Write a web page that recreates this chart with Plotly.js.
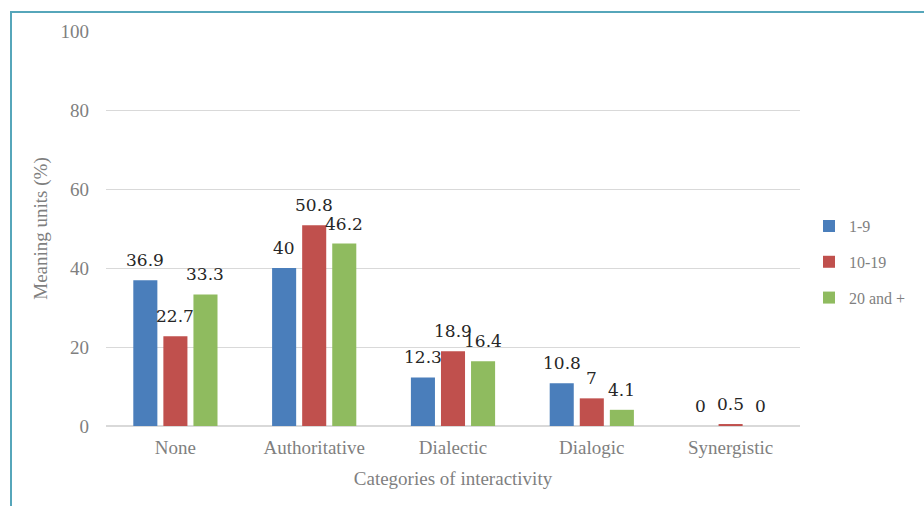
<!DOCTYPE html>
<html>
<head>
<meta charset="utf-8">
<script src="https://cdn.plot.ly/plotly-3.0.1.min.js"></script>
<style>
html,body{margin:0;padding:0;background:#fff;overflow:hidden;}
#chart{width:924px;height:506px;position:absolute;left:0;top:0;}
#frame{position:absolute;left:10px;top:11px;width:2000px;height:2000px;border-left:2px solid #56a6ba;border-top:2px solid #56a6ba;pointer-events:none;}
</style>
</head>
<body>
<div id="chart"></div>
<div id="frame"></div>
<script>
const categories = ["None", "Authoritative", "Dialectic", "Dialogic", "Synergistic"];
const seriesNames = ["1-9", "10-19", "20 and +"];
const s1 = [36.9, 40, 12.3, 10.8, 0];
const s2 = [22.7, 50.8, 18.9, 7, 0.5];
const s3 = [33.3, 46.2, 16.4, 4.1, 0];
const colors = ["#4a7ebb", "#c0504d", "#8fbb5f"];
const yTicks = [0, 20, 40, 60, 80, 100];

const serif = "Liberation Serif";
const labelFont = {family: "DejaVu Serif", size: 17, color: "#262626"};
const bargap = 0.35;

const series = [s1, s2, s3];
const data = series.map((vals, i) => ({
  type: "bar",
  name: seriesNames[i],
  legendgroup: "g" + i,
  x: categories,
  y: vals,
  marker: {color: colors[i]},
  hoverinfo: "x+y"
}));

// Data labels placed above each bar through the axes' own scales
const annotations = [];
series.forEach((vals, i) => {
  vals.forEach((v, j) => {
    annotations.push({
      x: j + (i - 1) * (1 - bargap) / 3,
      y: v,
      xref: "x", yref: "y",
      text: String(v),
      showarrow: false,
      yanchor: "bottom",
      yshift: 8,
      font: labelFont
    });
  });
});

const layout = {
  width: 924, height: 506,
  margin: {l: 106, r: 124, t: 31, b: 80, autoexpand: false},
  paper_bgcolor: "#fff", plot_bgcolor: "#fff",
  barmode: "group",
  bargap: bargap,
  bargroupgap: 0.2,
  font: {family: serif, color: "#7f7f7f", size: 19},
  xaxis: {
    showgrid: false,
    showline: false,
    ticks: "",
    ticklabelstandoff: 8,
    tickfont: {family: serif, size: 19, color: "#7f7f7f"},
    title: {text: "Categories of interactivity", font: {family: serif, size: 19, color: "#7f7f7f"}, standoff: 14}
  },
  yaxis: {
    range: [0, 100],
    tickvals: yTicks,
    showgrid: true,
    gridcolor: "#d9d9d9",
    gridwidth: 1,
    zeroline: true,
    zerolinecolor: "#d9d9d9",
    zerolinewidth: 1.5,
    showline: false,
    ticks: "",
    ticklabelstandoff: 16,
    tickfont: {family: serif, size: 19, color: "#7f7f7f"},
    title: {text: "Meaning units (%)", font: {family: serif, size: 19, color: "#7f7f7f"}, standoff: 7}
  },
  legend: {
    x: 1.013, y: 0.415, xanchor: "left", yanchor: "middle",
    font: {family: serif, size: 16, color: "#7f7f7f"},
    traceorder: "grouped",
    tracegroupgap: 12,
    itemwidth: 30
  },
  annotations: annotations,
  showlegend: true
};

Plotly.newPlot("chart", data, layout, {displayModeBar: false, staticPlot: true});
</script>
</body>
</html>
